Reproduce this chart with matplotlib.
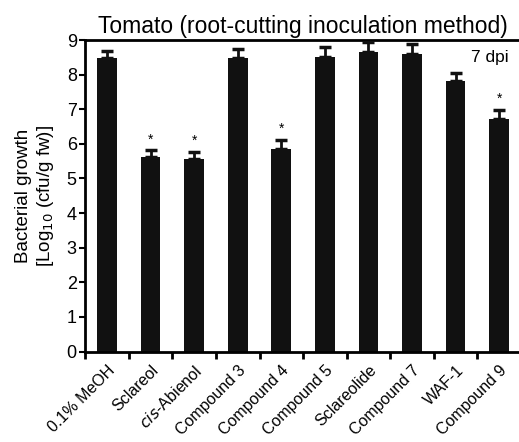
import numpy as np
import matplotlib
matplotlib.use("Agg")
import matplotlib.pyplot as plt

plt.rcParams['font.family'] = ['Liberation Sans', 'DejaVu Sans']

labels = ["0.1% MeOH", "Sclareol", r"$\it{cis}$-Abienol", "Compound 3", "Compound 4",
          "Compound 5", "Sclareolide", "Compound 7", "WAF-1", "Compound 9"]
growth = [8.48, 5.62, 5.57, 8.48, 5.85, 8.52, 8.65, 8.60, 7.83, 6.72]
sem = [0.19, 0.19, 0.19, 0.27, 0.27, 0.29, 0.28, 0.29, 0.23, 0.26]
signif = [False, True, True, False, True, False, False, False, False, True]

fig = plt.figure(figsize=(5.19, 4.42), dpi=100)
ax = fig.add_axes([0.164, 0.2045, 0.84, 0.705])

x = np.arange(len(growth)) + 0.5
ax.bar(x, growth, width=0.45, color='#111111', zorder=2)
ax.errorbar(x, growth, yerr=[np.zeros(len(sem)), sem], fmt='none', ecolor='#111111',
            elinewidth=2, capsize=4, capthick=2.5, zorder=3)
for xi, g, s, sig in zip(x, growth, sem, signif):
    if sig:
        ax.text(xi, g + s + 0.12, "*", ha='center', va='bottom', fontsize=10)

ax.set_xlim(0, 10)
ax.set_ylim(0, 9)
ax.set_yticks(range(10))
ax.tick_params(axis='y', labelsize=13, width=1.5, length=4, direction='out', pad=2)

ax.set_xticks(np.arange(10))
ax.set_xticklabels([])
ax.tick_params(axis='x', which='major', width=2, length=5, direction='out')
ax.set_xticks(x, minor=True)
ax.set_xticklabels(labels, minor=True, rotation=45, ha='right', rotation_mode='anchor',
                   fontsize=11.5)
ax.tick_params(axis='x', which='minor', length=0, pad=8)

for side in ['left', 'bottom', 'top']:
    ax.spines[side].set_linewidth(2)
ax.spines['right'].set_visible(False)

ax.set_ylabel("Bacterial growth\n[Log$_{10}$ (cfu/g fw)]", fontsize=13.5, labelpad=8,
              linespacing=1.15)
ax.set_title("Tomato (root-cutting inoculation method)", fontsize=16.5, pad=5)
ax.text(0.972, 0.945, "7 dpi", transform=ax.transAxes, ha='right', va='center', fontsize=12.5)

fig.savefig("out.png", dpi=100)
